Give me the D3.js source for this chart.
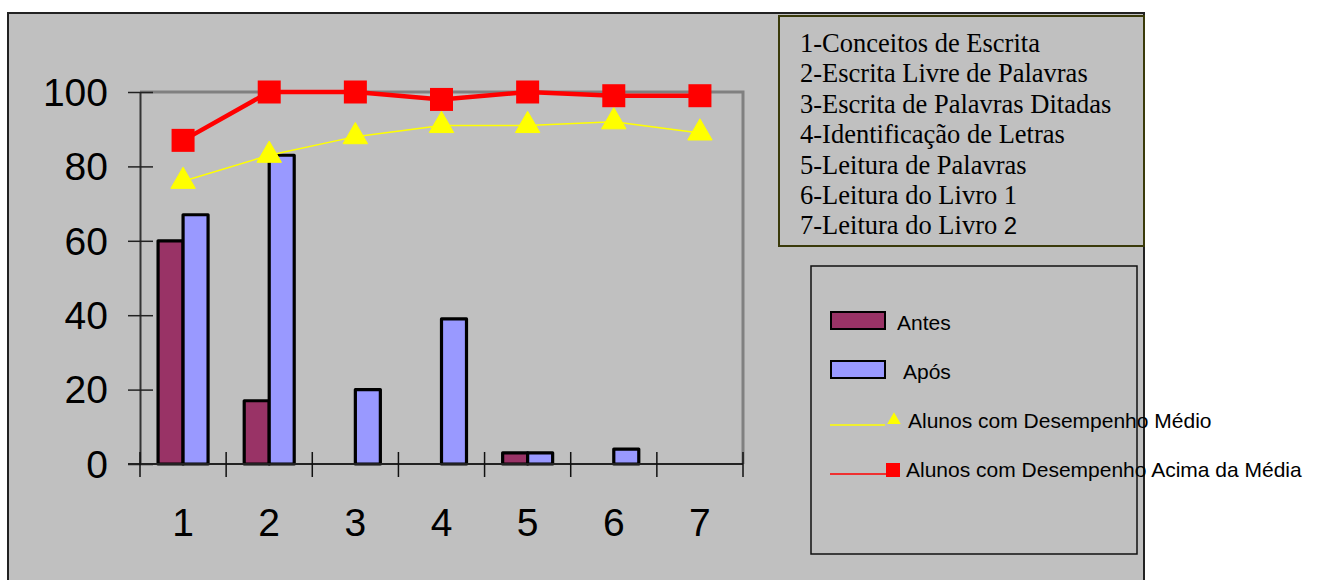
<!DOCTYPE html>
<html><head><meta charset="utf-8">
<script src="https://cdn.jsdelivr.net/npm/d3@7"></script>
<style>html,body{margin:0;padding:0;background:#fff;overflow:hidden}</style>
</head><body>
<svg id="c" width="1327" height="580"></svg>
<script>
const categories = ["1","2","3","4","5","6","7"];
const antes = [60, 17, 0, 0, 3, 0, 0];
const apos = [67, 83, 20, 39, 3, 4, 0];
const medio = [76, 83, 88, 91, 91, 92, 89];
const acima = [87, 100, 100, 98, 100, 99, 99];
const yTicks = [0, 20, 40, 60, 80, 100];
const descriptions = ["1-Conceitos de Escrita","2-Escrita Livre de Palavras","3-Escrita de Palavras Ditadas","4-Identificação de Letras","5-Leitura de Palavras","6-Leitura do Livro 1","7-Leitura do Livro "];
const seriesNames = ["Antes","Após","Alunos com Desempenho Médio","Alunos com Desempenho Acima da Média"];

const svg = d3.select("#c");
const bg = "#C0C0C0";
svg.append("rect").attr("x",8).attr("y",13).attr("width",1136).attr("height",600)
  .attr("fill",bg).attr("stroke","#222").attr("stroke-width",2);

const L=140, R=743, T=92, B=464;
const x = d3.scaleBand().domain(categories).range([L,R]).padding(0);
const y = d3.scaleLinear().domain([0,100]).range([B,T]);
const sub = d3.scaleBand().domain(["antes","apos"]).range([-25,25]).padding(0);

// plot border (top & right gray)
svg.append("path").attr("d",`M${L},${T}H${R}V${B}`).attr("fill","none")
  .attr("stroke","#808080").attr("stroke-width",3);

// bars
const g = svg.append("g");
categories.forEach((c,i)=>{
  const cx = x(c)+x.bandwidth()/2;
  [["antes",antes[i],"#993366"],["apos",apos[i],"#9999FF"]].forEach(([k,v,col])=>{
    if(v<=0) return;
    g.append("rect").attr("x",cx+sub(k)).attr("width",sub.bandwidth())
      .attr("y",y(v)).attr("height",y(0)-y(v))
      .attr("fill",col).attr("stroke","#000").attr("stroke-width",3.2).attr("stroke-linejoin","round");
  });
});

// axes
const yAxis = d3.axisLeft(y).tickValues(yTicks).tickSizeInner(13).tickSizeOuter(0);
const ya = svg.append("g").attr("transform",`translate(${L},0)`).call(yAxis);
ya.select(".domain").attr("stroke","#333").attr("stroke-width",2);
ya.selectAll(".tick line").attr("x2",-12).attr("x1",13).attr("stroke","#222").attr("stroke-width",1.5);
ya.selectAll(".tick text").attr("x",-32).attr("dy","0.34em")
  .style("font-family","Arial, 'Liberation Sans', sans-serif").style("font-size","39px").attr("fill","#000");

const xa = svg.append("g").attr("transform",`translate(0,${B})`);
xa.append("line").attr("x1",L-12).attr("x2",R).attr("stroke","#222").attr("stroke-width",2);
const bounds = categories.map(c=>x(c)).concat([R]);
xa.selectAll("line.tk").data(bounds).enter().append("line").attr("class","tk")
  .attr("x1",d=>d).attr("x2",d=>d).attr("y1",-12).attr("y2",13).attr("stroke","#111").attr("stroke-width",1.5);
xa.selectAll("text").data(categories).enter().append("text")
  .attr("x",d=>x(d)+x.bandwidth()/2).attr("y",72).attr("text-anchor","middle")
  .style("font-family","Arial, 'Liberation Sans', sans-serif").style("font-size","39px").text(d=>d);

// lines
const cxOf = (i)=>x(categories[i])+x.bandwidth()/2;
const line = d3.line().x((d,i)=>cxOf(i)).y(d=>y(d));
svg.append("path").datum(medio).attr("d",line).attr("fill","none").attr("stroke","#FFFF00").attr("stroke-width",1.5);
svg.append("path").datum(acima).attr("d",line).attr("fill","none").attr("stroke","#FF0000").attr("stroke-width",4.5);
const tri = d3.symbol().type(d3.symbolTriangle).size(260);
svg.selectAll("path.tri").data(medio).enter().append("path").attr("class","tri")
  .attr("transform",(d,i)=>`translate(${cxOf(i)},${y(d)})`).attr("d",tri()).attr("fill","#FFFF00")
  .attr("stroke","#FFFF00").attr("stroke-width",1).attr("stroke-linejoin","round");
svg.selectAll("rect.sq").data(acima).enter().append("rect").attr("class","sq")
  .attr("x",(d,i)=>cxOf(i)-11.5).attr("y",d=>y(d)-11.5).attr("width",23).attr("height",23).attr("fill","#FF0000");

// description box
svg.append("rect").attr("x",779).attr("y",16).attr("width",365).attr("height",230)
  .attr("fill",bg).attr("stroke","#3a3a0a").attr("stroke-width",2);
const dt = svg.append("g");
descriptions.forEach((d,i)=>{
  const t = dt.append("text").attr("x",800).attr("y",52+i*30.4)
    .style("font-family","'Liberation Serif','Times New Roman',serif").style("font-size","26.5px").text(d);
  if(i===6) t.append("tspan").style("font-family","Arial, 'Liberation Sans', sans-serif").style("font-size","24px").text("2");
});

// legend box
svg.append("rect").attr("x",811).attr("y",266).attr("width",326).attr("height",288)
  .attr("fill",bg).attr("stroke","#111").attr("stroke-width",1.5);
const lf = "Arial, 'Liberation Sans', sans-serif";
const fs = "21px";
svg.append("rect").attr("x",831).attr("y",312).attr("width",54).attr("height",17).attr("fill","#993366").attr("stroke","#000").attr("stroke-width",2);
svg.append("text").attr("x",897).attr("y",330).style("font-family",lf).style("font-size",fs).text(seriesNames[0]);
svg.append("rect").attr("x",831).attr("y",361).attr("width",54).attr("height",17).attr("fill","#9999FF").attr("stroke","#000").attr("stroke-width",2);
svg.append("text").attr("x",903).attr("y",379).style("font-family",lf).style("font-size",fs).text(seriesNames[1]);
svg.append("line").attr("x1",830).attr("x2",885).attr("y1",425).attr("y2",425).attr("stroke","#FFFF00").attr("stroke-width",1.5);
svg.append("path").attr("transform","translate(894,420)").attr("d",d3.symbol().type(d3.symbolTriangle).size(80)()).attr("fill","#FFFF00");
svg.append("text").attr("x",908).attr("y",428).style("font-family",lf).style("font-size",fs).text(seriesNames[2]);
svg.append("line").attr("x1",830).attr("x2",886).attr("y1",474).attr("y2",474).attr("stroke","#FF0000").attr("stroke-width",1.5);
svg.append("rect").attr("x",886).attr("y",463).attr("width",14).attr("height",14).attr("fill","#FF0000");
svg.append("text").attr("x",906).attr("y",477).style("font-family",lf).style("font-size",fs).text(seriesNames[3]);
</script>
</body></html>
